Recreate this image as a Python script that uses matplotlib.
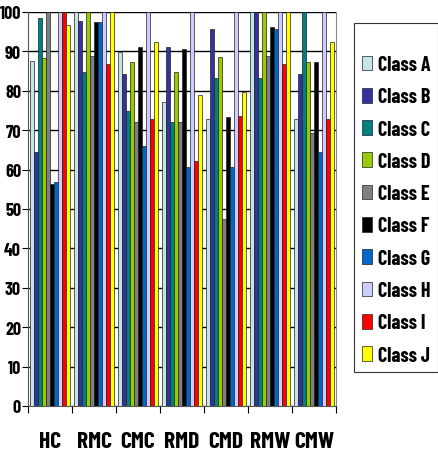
import numpy as np
import matplotlib.pyplot as plt

# groups and classes
groups = ['HC', 'RMC', 'CMC', 'RMD', 'CMD', 'RMW', 'CMW']
classes = ['Class A', 'Class B', 'Class C', 'Class D', 'Class E',
           'Class F', 'Class G', 'Class H', 'Class I', 'Class J']
colors = ['#C6E4E8', '#333399', '#008080', '#99CC00', '#808080',
          '#000000', '#0066CC', '#CCCCFF', '#FF0000', '#FFFF00']

# values per class, one entry per group
class_a = [87.5, 100, 89.8, 77.1, 72.8, 100, 72.8]
class_b = [64.4, 97.8, 84.3, 91.0, 95.7, 100, 84.3]
class_c = [98.4, 84.7, 75.0, 72.2, 83.2, 83.2, 100]
class_d = [88.2, 100, 87.2, 84.7, 88.7, 100, 87.2]
class_e = [100, 88.9, 72.2, 72.2, 47.5, 88.9, 69.3]
class_f = [56.3, 97.5, 91.0, 90.7, 73.3, 96.1, 87.2]
class_g = [56.9, 97.4, 66.1, 60.6, 60.6, 95.8, 64.4]
class_h = [100, 100, 100, 100, 100, 100, 100]
class_i = [100, 86.8, 72.8, 62.3, 73.7, 86.8, 72.8]
class_j = [96.7, 100, 92.3, 79.0, 79.6, 100, 92.3]

series = [class_a, class_b, class_c, class_d, class_e,
          class_f, class_g, class_h, class_i, class_j]

plt.rcParams['font.family'] = ['Barlow Condensed', 'Roboto Condensed', 'DejaVu Sans']
plt.rcParams['font.weight'] = 'bold'

fig = plt.figure(figsize=(4.38, 4.56), dpi=100)
ax = fig.add_axes([28 / 438, 49 / 456, 308 / 438, 394 / 456])

x = np.arange(len(groups))
width = 0.09
for i, (name, vals) in enumerate(zip(classes, series)):
    offs = (i - 4.5) * width
    ax.bar(x + offs, vals, width, color=colors[i], edgecolor='#222222',
           linewidth=0.5, label=name, zorder=3)

ax.set_xlim(-0.5, len(groups) - 0.5)
ax.set_ylim(0, 100)
ax.set_yticks(np.arange(0, 101, 10))
ax.yaxis.grid(True, color='black', linewidth=1)
ax.set_axisbelow(True)

# ticks at group boundaries, labels at group centres
ax.set_xticks(np.arange(len(groups) + 1) - 0.5)
ax.set_xticklabels([])
ax.set_xticks(x, minor=True)
ax.set_xticklabels(groups, minor=True, fontsize=17, fontweight='bold')
ax.tick_params(axis='x', which='major', length=5, direction='out')
ax.tick_params(axis='x', which='minor', length=0, pad=18)
ax.tick_params(axis='y', length=4, pad=1, labelsize=13)

for s in ['left', 'bottom']:
    ax.spines[s].set_color('#555555')
ax.spines['top'].set_visible(False)
ax.spines['right'].set_color('#888888')

leg = fig.legend(loc='upper left', bbox_to_anchor=(354 / 438, 1 - 24 / 456),
                 fontsize=14.5, frameon=True, fancybox=False, edgecolor='black',
                 handlelength=0.5, handleheight=0.75, handletextpad=0.3,
                 labelspacing=0.66, borderaxespad=0, borderpad=0.38,
                 title=' ', title_fontsize=9)
leg.get_frame().set_linewidth(0.8)

plt.savefig('out.png', dpi=100)
